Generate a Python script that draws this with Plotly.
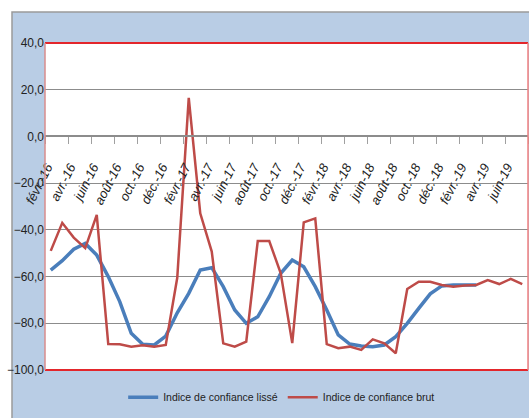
import plotly.graph_objects as go

# mois (fevr-16 -> juil-19)
mois = ["févr.-16", "mars-16", "avr.-16", "mai-16", "juin-16", "juil.-16", "août-16", "sept.-16",
        "oct.-16", "nov.-16", "déc.-16", "janv.-17", "févr.-17", "mars-17", "avr.-17", "mai-17",
        "juin-17", "juil.-17", "août-17", "sept.-17", "oct.-17", "nov.-17", "déc.-17", "janv.-18",
        "févr.-18", "mars-18", "avr.-18", "mai-18", "juin-18", "juil.-18", "août-18", "sept.-18",
        "oct.-18", "nov.-18", "déc.-18", "janv.-19", "févr.-19", "mars-19", "avr.-19", "mai-19",
        "juin-19", "juil.-19"]

indice_lisse = [-57.2, -53.2, -48.3, -45.8, -50.8, -60.0, -70.7, -84.3, -89.0, -89.3,
                -85.5, -75.5, -67.2, -57.2, -56.2, -64.3, -74.3, -80.0, -77.2, -68.6,
                -58.6, -52.9, -55.8, -64.3, -74.3, -85.0, -88.9, -89.7, -90.0, -89.3,
                -85.7, -80.0, -73.6, -67.4, -64.0, -63.6, -63.6, -63.6]

indice_brut = [-49.0, -37.0, -43.3, -47.8, -33.6, -88.9, -89.0, -90.0, -89.4, -90.0,
               -89.3, -60.5, 16.5, -32.9, -49.3, -88.6, -90.0, -87.9, -44.8, -44.8,
               -58.6, -88.5, -36.8, -35.1, -88.9, -90.7, -90.0, -91.4, -86.9, -88.6,
               -92.8, -65.3, -62.2, -62.2, -63.6, -64.3, -63.8, -63.6, -61.5, -63.2,
               -61.0, -63.2]

noms = ["Indice de confiance lissé", "Indice de confiance brut"]

police = "Liberation Sans Narrow, Arial Narrow, Liberation Sans, sans-serif"
n = len(mois)

fig = go.Figure()
fig.add_trace(go.Scatter(x=list(range(len(indice_lisse))), y=indice_lisse, mode="lines",
                         name=noms[0], line=dict(color="#4a7ebb", width=3.5)))
# la serie brute est sur l'axe x2 (celui qui porte les etiquettes)
fig.add_trace(go.Scatter(x=list(range(n)), y=indice_brut, mode="lines", xaxis="x2",
                         name=noms[1], line=dict(color="#be4b48", width=2.5)))

# position de l'axe des x sur la ligne 0
pos0 = (0 - (-100)) / 140

fig.update_layout(
    width=529, height=418,
    margin=dict(l=45, r=1, t=43, b=48),
    paper_bgcolor="white",
    plot_bgcolor="white",
    separators=", ",
    font=dict(family=police, size=11, color="#222"),
    xaxis=dict(range=[-0.5, n - 0.5], anchor="free", position=pos0,
               tickvals=[i - 0.5 for i in range(0, n + 1, 2)],
               ticktext=["" for i in range(0, n + 1, 2)],
               ticks="outside", ticklen=7, tickcolor="#a0a0a0",
               showline=True, linecolor="#8c8c8c", linewidth=1.5,
               showgrid=False, zeroline=False, automargin=False),
    xaxis2=dict(range=[-0.5, n - 0.5], overlaying="x", anchor="free", position=pos0,
                tickvals=[i - 0.3 for i in range(0, n, 2)],
                ticktext=[mois[i] for i in range(0, n, 2)],
                tickangle=-63, ticks="outside", ticklen=17, tickcolor="rgba(0,0,0,0)",
                showline=False, showgrid=False, zeroline=False,
                tickfont=dict(size=13, color="#222", style="italic"), automargin=False),
    yaxis=dict(range=[-100, 40], dtick=20, tickformat=".1f",
               showgrid=True, gridcolor="#8c8c8c", gridwidth=1.3,
               zeroline=False, showline=False, ticks="", automargin=False,
               tickfont=dict(size=12, color="#222")),
    legend=dict(orientation="h", x=0.49, xanchor="center", y=-0.083, yanchor="middle",
                bgcolor="rgba(0,0,0,0)", font=dict(size=10.5), itemwidth=30),
    shapes=[
        dict(type="rect", xref="paper", yref="paper", x0=(12 - 45) / 483, x1=1.02,
             y0=-0.2, y1=(370 - 12) / 327, fillcolor="#b9cde5",
             line=dict(color="#9a9a9a", width=1.5), layer="below"),
        dict(type="rect", xref="paper", yref="paper", x0=0, x1=1, y0=0, y1=1,
             fillcolor="white", line=dict(width=0), layer="below"),
        dict(type="line", xref="paper", yref="paper", x0=0, x1=1, y0=1, y1=1,
             line=dict(color="#e3262b", width=2)),
        dict(type="line", xref="paper", yref="paper", x0=0, x1=1, y0=0, y1=0,
             line=dict(color="#e3262b", width=2)),
        dict(type="line", xref="paper", yref="paper", x0=0, x1=0, y0=0, y1=1,
             line=dict(color="#d98c8c", width=1.5)),
        dict(type="line", xref="paper", yref="paper", x0=1, x1=1, y0=0, y1=1,
             line=dict(color="#f08080", width=1.5)),
    ],
)

fig.write_html("out.html", config={"displayModeBar": False},
               post_script="document.body.style.margin='0';document.body.style.overflow='hidden';")
